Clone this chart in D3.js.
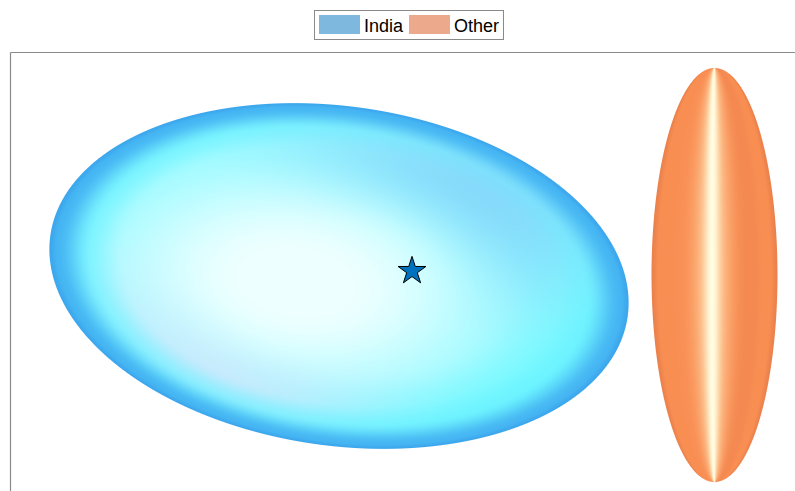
<!DOCTYPE html>
<html><head><meta charset="utf-8">
<script src="https://cdn.jsdelivr.net/npm/d3@7"></script>
<style>
body{margin:0;background:#fff;}
#wrap{position:relative;width:795px;height:491px;overflow:hidden;}
#wrap canvas,#wrap svg{position:absolute;left:0;top:0;}
</style></head>
<body><div id="wrap"></div>
<script>
// ---- data ----
const groups = ["India", "Other"];
const centerX = [3.29, 7.045];
const centerY = [2.24, 2.25];
const radiusX = [2.915, 0.63];
const radiusY = [1.697, 2.07];
const tiltDeg = [-8.0, 0];
const meanPointX = [4.02];
const meanPointY = [2.29];

// ---- layout ----
const W = 795, H = 491;
const x = d3.scaleLinear().domain([0, 7.9]).range([10, 800]);
const y = d3.scaleLinear().domain([0, 4.47]).range([500, 53]);

const wrap = d3.select("#wrap");
const canvas = wrap.append("canvas").attr("width", W).attr("height", H).node();
const ctx = canvas.getContext("2d");
ctx.fillStyle = "#fff"; ctx.fillRect(0, 0, W, H);

const clamp01 = t => Math.max(0, Math.min(1, t));
const smooth = (e0, e1, t) => { const k = clamp01((t - e0) / (e1 - e0)); return k * k * (3 - 2 * k); };
const mix = (c1, c2, t) => [c1[0] + (c2[0] - c1[0]) * t, c1[1] + (c2[1] - c1[1]) * t, c1[2] + (c2[2] - c1[2]) * t];

function shadeBlue(U, V, q) {
  const hx = U + 0.15, hy = V - 0.05;
  const qh = Math.sqrt(hx * hx + hy * hy);
  let c = mix([238, 255, 255], [150, 250, 255], smooth(0.15, 0.9, qh));
  const ang = Math.atan2(V, U);
  const ur = Math.pow(Math.max(0, Math.cos(ang - (-0.75))), 2.2);
  const ll = Math.pow(Math.max(0, Math.cos(ang - 2.15)), 3);
  const lr = Math.pow(Math.max(0, Math.cos(ang - 0.75)), 2);
  c = mix(c, [130, 210, 250], ur * smooth(0.3, 0.75, q) * 0.8);
  c = mix(c, [208, 228, 252], ll * smooth(0.45, 0.8, q) * (1 - smooth(0.86, 0.95, q)) * 0.75);
  c = mix(c, [105, 248, 255], lr * smooth(0.55, 0.85, q) * 0.7);
  c = mix(c, [100, 240, 255], smooth(0.74, 0.88, q) * (1 - ur * 0.6) * 0.6);
  c = mix(c, [70, 182, 243], smooth(0.85, 0.975, q));
  c = mix(c, [56, 160, 234], smooth(0.97, 1.0, q) * 0.7);
  return c;
}
function shadeOrange(U, V, q) {
  const half = Math.sqrt(Math.max(1e-4, 1 - V * V));
  const w = U / half;
  let c = [249, 142, 83];
  c = mix(c, [238, 132, 78], smooth(0.2, 0.5, w) * (1 - smooth(0.6, 0.8, w)) * 0.5);
  c = mix(c, [228, 124, 72], smooth(0.88, 1.0, Math.abs(w)) * 0.7);
  const glow = Math.exp(-Math.pow((w + 0.04) / 0.27, 2));
  const core = Math.exp(-Math.pow((w + 0.04) / 0.11, 2));
  c = mix(c, [255, 226, 178], glow * 0.8);
  c = mix(c, [255, 252, 225], core);
  return c;
}
const shaders = [shadeBlue, shadeOrange];

function draw(i) {
  const cx = x(centerX[i]), cy = y(centerY[i]);
  const a = radiusX[i] * (x(1) - x(0)), b = radiusY[i] * (y(0) - y(1));
  const th = -tiltDeg[i] * Math.PI / 180, ct = Math.cos(th), sn = Math.sin(th);
  const R = Math.max(a, b) + 2;
  const x0 = Math.max(0, Math.floor(cx - R)), x1 = Math.min(W, Math.ceil(cx + R));
  const y0 = Math.max(0, Math.floor(cy - R)), y1 = Math.min(H, Math.ceil(cy + R));
  const img = ctx.getImageData(x0, y0, x1 - x0, y1 - y0);
  const d = img.data, iw = x1 - x0;
  for (let py = y0; py < y1; py++) {
    for (let px = x0; px < x1; px++) {
      const dx = px + 0.5 - cx, dy = py + 0.5 - cy;
      const u = dx * ct + dy * sn, v = -dx * sn + dy * ct;
      const p = Math.sqrt((u / a) ** 2 + (v / b) ** 2);
      if (p > 1.05) continue;
      const grad = Math.sqrt((u / (a * a)) ** 2 + (v / (b * b)) ** 2) / Math.max(p, 1e-6);
      const alpha = clamp01((1 - p) / Math.max(grad, 1e-6) + 0.5);
      if (alpha <= 0) continue;
      const q = Math.min(p, 1);
      const s = p > 0 ? q / p : 1;
      const Ul = (u / a) * s, Vl = (v / b) * s;
      const U = Ul * ct - Vl * sn, V = Ul * sn + Vl * ct;
      const col = shaders[i](U, V, q);
      const k = ((py - y0) * iw + (px - x0)) * 4;
      for (let ch = 0; ch < 3; ch++) d[k + ch] = d[k + ch] * (1 - alpha) + col[ch] * alpha;
    }
  }
  ctx.putImageData(img, x0, y0);
}
groups.forEach((g, i) => draw(i));

// ---- svg overlay ----
const svg = wrap.append("svg").attr("width", W).attr("height", H);

svg.append("line").attr("x1", x(0) + 0.5).attr("x2", x(7.9)).attr("y1", y(4.47) - 0.5).attr("y2", y(4.47) - 0.5)
  .attr("stroke", "#8a8a8a").attr("stroke-width", 1.2);
svg.append("line").attr("x1", x(0) + 0.5).attr("x2", x(0) + 0.5).attr("y1", y(4.47) - 0.5).attr("y2", y(0))
  .attr("stroke", "#8a8a8a").attr("stroke-width", 1.2);

svg.append("path")
  .attr("d", d3.symbol(d3.symbolStar, 240)())
  .attr("transform", `translate(${x(meanPointX[0])},${y(meanPointY[0])})`)
  .attr("fill", "#0072bd").attr("stroke", "#000").attr("stroke-width", 1);

const swatch = ["rgba(0,114,189,0.5)", "rgba(217,83,25,0.5)"];
const leg = svg.append("g").attr("transform", "translate(314,10)");
leg.append("rect").attr("x", 0.5).attr("y", 0.5).attr("width", 189).attr("height", 29)
  .attr("fill", "#fff").attr("stroke", "#8a8a8a").attr("stroke-width", 1);
const itemX = [5, 95];
groups.forEach((g, i) => {
  leg.append("rect").attr("x", itemX[i]).attr("y", 5).attr("width", 41).attr("height", 19).attr("fill", swatch[i]);
  leg.append("text").attr("x", itemX[i] + 45).attr("y", 22).text(g)
    .attr("font-family", "Liberation Sans, Arial, sans-serif").attr("font-size", 18).attr("fill", "#000");
});
</script>
</body></html>
